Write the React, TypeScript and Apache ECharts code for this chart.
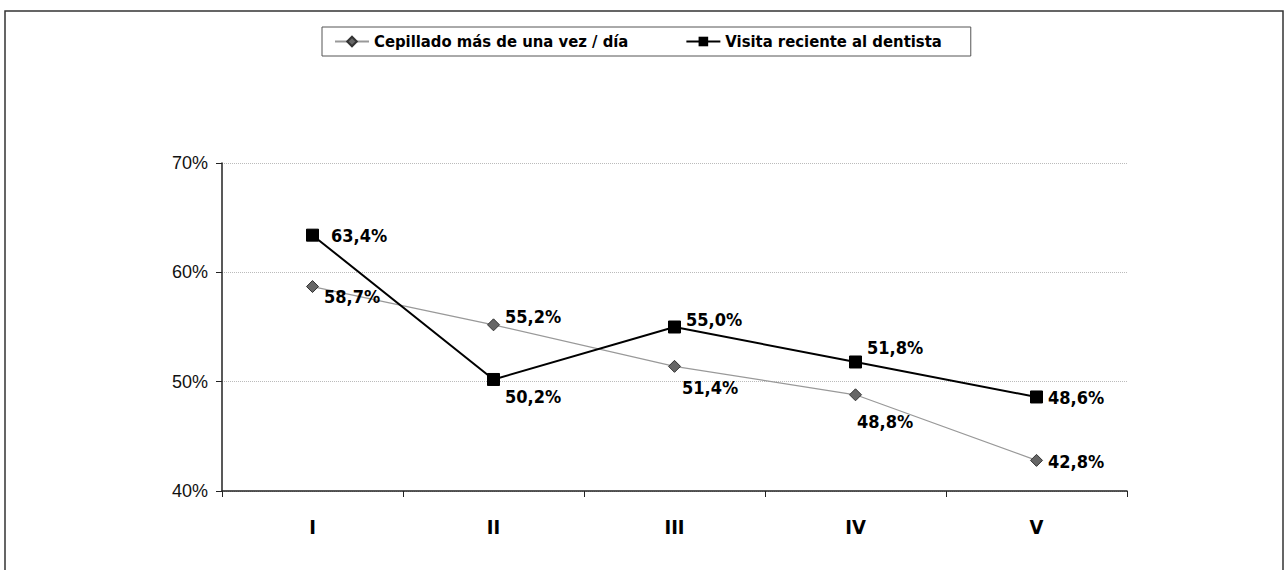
import React, { useEffect, useRef } from "react";
import * as echarts from "echarts";

const categories = ["I", "II", "III", "IV", "V"];
const cepillado = [58.7, 55.2, 51.4, 48.8, 42.8];
const visita = [63.4, 50.2, 55.0, 51.8, 48.6];
const cepilladoOffsets: [number, number][] = [[0, 10], [0, -8], [-4, 21], [-10, 27], [0, 1]];
const visitaOffsets: [number, number][] = [[7, 0], [0, 17], [0, -8], [0, -14], [0, 1]];

const NARROW = '"Liberation Sans Narrow", "DejaVu Sans Condensed", "Arial Narrow", sans-serif';
const fmt = (v: number) => v.toFixed(1).replace(".", ",") + "%";

export default function App() {
  const ref = useRef<HTMLDivElement>(null);
  useEffect(() => {
    const chart = echarts.init(ref.current!, null, { renderer: "svg" });
    const labelStyle = {
      show: true,
      position: "right" as const,
      fontFamily: NARROW,
      fontWeight: "bold" as const,
      fontSize: 18,
      color: "#000",
      formatter: (p: any) => fmt(p.value),
    };
    chart.setOption({
      animation: false,
      backgroundColor: "#fff",
      graphic: [
        {
          type: "rect",
          shape: { x: 5, y: 11, width: 1278, height: 600 },
          style: { fill: "none", stroke: "#333", lineWidth: 1.5 },
          silent: true,
        },
      ],
      legend: {
        left: 322,
        top: 27,
        height: 30,
        padding: [6, 29, 6, 12],
        borderColor: "#555",
        borderWidth: 1,
        itemGap: 57,
        itemWidth: 34,
        itemHeight: 12,
        textStyle: { fontFamily: NARROW, fontWeight: "bold", fontSize: 16.5, color: "#000" },
        data: ["Cepillado más de una vez / día", "Visita reciente al dentista"],
      },
      grid: { left: 222, right: 157, top: 163, bottom: 79, containLabel: false },
      xAxis: {
        type: "category",
        data: categories,
        boundaryGap: true,
        axisLine: { lineStyle: { color: "#222", width: 1.5 } },
        axisTick: { show: true, length: 6, lineStyle: { color: "#222" } },
        axisLabel: {
          margin: 26,
          fontFamily: NARROW,
          fontWeight: "bold",
          fontSize: 20,
          color: "#000",
        },
      },
      yAxis: {
        type: "value",
        min: 40,
        max: 70,
        interval: 10,
        axisLine: { show: true, lineStyle: { color: "#222", width: 1.5 } },
        axisTick: { show: true, length: 6, lineStyle: { color: "#222" } },
        axisLabel: {
          margin: 14,
          fontFamily: '"Liberation Sans", Arial, sans-serif',
          fontSize: 18,
          color: "#111",
          formatter: (v: number) => v + "%",
        },
        splitLine: { show: true, lineStyle: { color: "#bbb", type: "dotted", width: 1 } },
      },
      series: [
        {
          name: "Cepillado más de una vez / día",
          type: "line",
          data: cepillado.map((v, i) => ({
            value: v,
            label: { ...labelStyle, offset: cepilladoOffsets[i] },
          })),
          symbol: "diamond",
          symbolSize: 12,
          itemStyle: { color: "#666", borderColor: "#333", borderWidth: 1 },
          lineStyle: { color: "#999", width: 1.2 },
          label: labelStyle,
          z: 2,
        },
        {
          name: "Visita reciente al dentista",
          type: "line",
          data: visita.map((v, i) => ({
            value: v,
            label: { ...labelStyle, offset: visitaOffsets[i] },
          })),
          symbol: "rect",
          symbolSize: 12,
          itemStyle: { color: "#000", borderColor: "#000" },
          lineStyle: { color: "#000", width: 2 },
          label: labelStyle,
          z: 3,
        },
      ],
    });
    return () => chart.dispose();
  }, []);
  return (
    <div
      ref={ref}
      style={{ position: "fixed", left: 0, top: 0, width: 1284, height: 570, background: "#fff" }}
    />
  );
}
